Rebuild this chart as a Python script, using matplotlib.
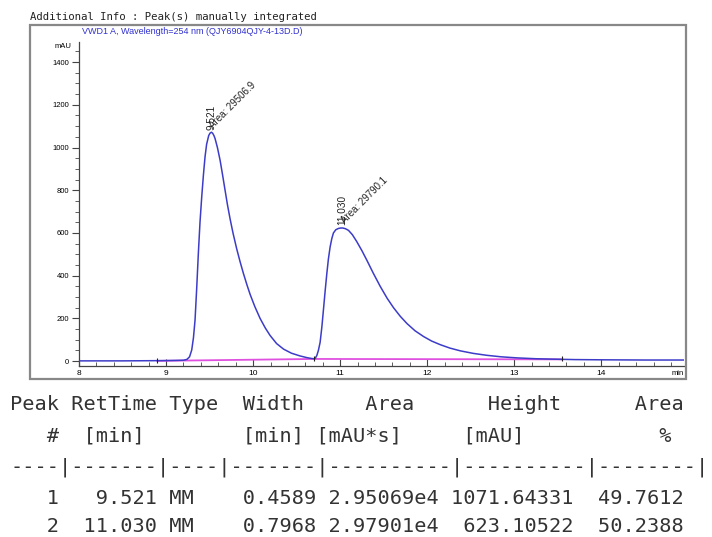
import matplotlib
matplotlib.use("Agg")
import matplotlib.pyplot as plt
from matplotlib.patches import Rectangle
from matplotlib.ticker import MultipleLocator

# signal (min, mAU)
time = [8.0, 8.5, 8.9, 9.1, 9.2, 9.24, 9.27, 9.295, 9.315, 9.333, 9.352, 9.371,
        9.39, 9.41, 9.43, 9.448, 9.466, 9.49, 9.505, 9.521, 9.535, 9.55, 9.563,
        9.59, 9.621, 9.65, 9.678, 9.705, 9.736, 9.77, 9.812, 9.85, 9.889, 9.93,
        9.966, 10.02, 10.08, 10.14, 10.195, 10.27, 10.35, 10.44, 10.54, 10.62,
        10.675, 10.70, 10.715, 10.732, 10.75, 10.77, 10.79, 10.808, 10.828,
        10.847, 10.865, 10.885, 10.905, 10.923, 10.95, 10.98, 11.005, 11.03,
        11.06, 11.096, 11.14, 11.19, 11.25, 11.307, 11.38, 11.46, 11.54, 11.613,
        11.69, 11.767, 11.86, 11.958, 12.05, 12.149, 12.26, 12.38, 12.53,
        12.686, 12.85, 13.03, 13.25, 13.45, 13.7, 14.0, 14.5, 14.95]
signal = [1, 1, 2, 3, 4, 8, 20, 52, 110, 192, 340, 504,
          650, 770, 875, 957, 1015, 1056, 1067, 1071.6, 1067, 1056, 1042,
          1000, 940, 870, 800, 733, 665, 598, 525, 466, 410, 356,
          312, 255, 200, 155, 120, 82, 56, 37, 24, 16,
          12, 11, 14, 26, 50, 88, 160, 240, 330,
          410, 478, 535, 575, 600, 615, 621, 623, 623.1,
          620, 612, 592, 560, 517, 472, 412, 350, 294, 250,
          210, 176, 142, 115, 94, 77, 61, 48, 36,
          27, 20, 15, 11, 9, 7, 6, 5, 5]

# integration baseline
base_time = [8.9, 10.70, 13.55]
base_val = [1, 10, 8]

# peak labels
peak_rt = [9.521, 11.030]
peak_height = [1071.64331, 623.10522]
peak_area_label = ["29506.9", "29790.1"]

# report table
peak_no = [1, 2]
types = ["MM", "MM"]
widths = [0.4589, 0.7968]
areas = ["2.95069e4", "2.97901e4"]
area_pct = [49.7612, 50.2388]

W, H = 712, 537
fig = plt.figure(figsize=(W / 100, H / 100), dpi=100)

def fx(px):
    return px / W

def fy(py):
    return 1 - py / H

ax = fig.add_axes([fx(79), fy(366), fx(684) - fx(79), fy(42) - fy(366)])

blue = "#3c3cc8"
magenta = "#e050e0"
ax.plot(base_time, base_val, color=magenta, lw=1.3, zorder=2)
ax.plot(time, signal, color=blue, lw=1.1, zorder=3)
ax.vlines(base_time, [v - 9 for v in base_val], [v + 15 for v in base_val],
          color="#222222", lw=0.8, zorder=4)

ax.set_xlim(8, 14.95)
ax.set_ylim(-23, 1494)
for s in ["top", "right"]:
    ax.spines[s].set_visible(False)
for s in ["left", "bottom"]:
    ax.spines[s].set_color("#444444")
    ax.spines[s].set_linewidth(0.9)

ax.yaxis.set_major_locator(MultipleLocator(200))
ax.yaxis.set_minor_locator(MultipleLocator(50))
ax.xaxis.set_major_locator(MultipleLocator(1))
ax.xaxis.set_minor_locator(MultipleLocator(0.2))
ax.tick_params(axis="y", which="major", direction="out", length=5, width=0.8,
               labelsize=5.5, pad=2, color="#444444")
ax.tick_params(axis="y", which="minor", direction="out", length=3, width=0.6,
               color="#444444")
ax.tick_params(axis="x", which="major", direction="in", length=5, width=0.8,
               labelsize=6, pad=3, color="#444444")
ax.tick_params(axis="x", which="minor", direction="in", length=3, width=0.6,
               color="#444444")
for lab in ax.get_xticklabels() + ax.get_yticklabels():
    lab.set_family("Liberation Sans")
ax.text(14.95, -0.022, "min", transform=ax.get_xaxis_transform(),
        ha="right", va="center", fontsize=5.5, family="Liberation Sans")
ax.text(-0.012, 0.985, "mAU", transform=ax.transAxes, ha="right", va="center",
        fontsize=5.5, family="Liberation Sans")

for rt, h, a in zip(peak_rt, peak_height, peak_area_label):
    ax.text(rt, h + 12, f"{rt:.3f}", rotation=90, ha="center", va="bottom",
            fontsize=7.2, family="Liberation Sans", color="#222222")
    ax.text(rt + 0.04, h + 10, f"Area: {a}", rotation=45, rotation_mode="anchor",
            ha="left", va="bottom", fontsize=7, family="Liberation Sans",
            color="#222222")

# outer frame and header texts
fig.add_artist(Rectangle((fx(30), fy(379)), fx(686) - fx(30), fy(25) - fy(379),
                         transform=fig.transFigure, fill=False,
                         ec="#888888", lw=1.6))
fig.text(fx(30), fy(17), "Additional Info : Peak(s) manually integrated",
         family="DejaVu Sans Mono", fontsize=7.7, color="#222222",
         ha="left", va="center")
fig.text(fx(82), fy(31), "VWD1 A, Wavelength=254 nm (QJY6904QJY-4-13D.D)",
         family="Liberation Sans", fontsize=6.5, color="#3030d0",
         ha="left", va="center")

# fixed-width report table
lines = [
    "Peak RetTime Type  Width     Area      Height      Area",
    "   #  [min]        [min] [mAU*s]     [mAU]           %",
    "----|-------|----|-------|----------|----------|--------|",
]
for n, rt, t, w, a, h, p in zip(peak_no, peak_rt, types, widths, areas,
                                 peak_height, area_pct):
    lines.append(f"{n:4d} {rt:7.3f} {t:<4s} {w:7.4f} {a:>9s} {h:10.5f} {p:8.4f}")
row_y = [405, 436, 467, 498, 527]
for txt, y in zip(lines, row_y):
    fig.text(fx(10), fy(y), txt, family="DejaVu Sans Mono", fontsize=14.6,
             color="#333333", ha="left", va="center")

fig.savefig("out.png", dpi=100)
